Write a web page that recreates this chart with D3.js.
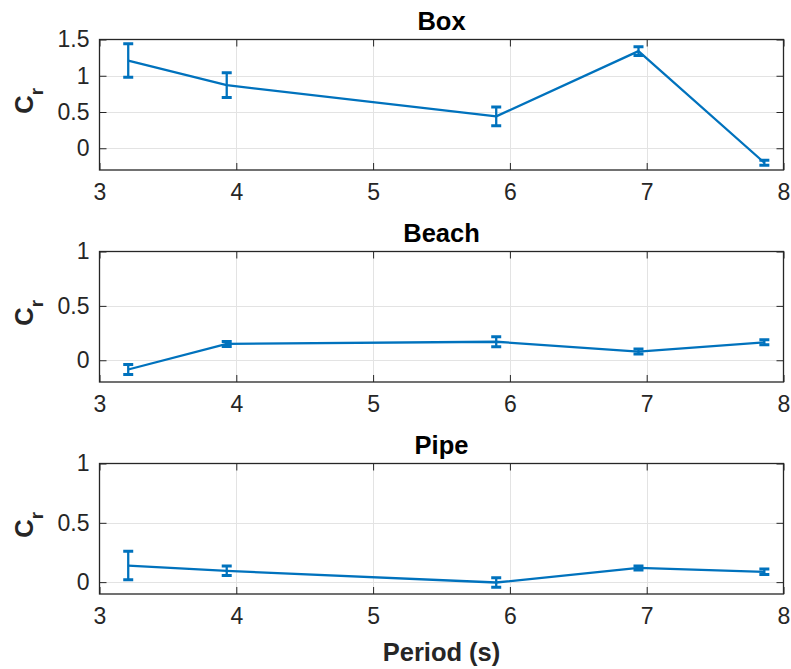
<!DOCTYPE html>
<html>
<head>
<meta charset="utf-8">
<script src="https://cdn.jsdelivr.net/npm/d3@7"></script>
<style>
  body { margin: 0; background: #fff; }
  svg { display: block; font-family: "Liberation Sans", Arial, Helvetica, sans-serif; }
</style>
</head>
<body>
<div id="chart"></div>
<script>
// wave periods (s)
const periods = [3.21, 3.93, 5.9, 6.94, 7.86]

// reflection coefficient means and error half-widths
const boxCr = [1.21, 0.87, 0.44, 1.34, -0.2]
const boxErr = [0.23, 0.17, 0.13, 0.06, 0.035]
const beachCr = [-0.085, 0.15, 0.17, 0.08, 0.165]
const beachErr = [0.045, 0.023, 0.045, 0.023, 0.023]
const pipeCr = [0.14, 0.095, -0.003, 0.12, 0.087]
const pipeErr = [0.12, 0.04, 0.04, 0.017, 0.023]

const xTicks = [3, 4, 5, 6, 7, 8]

const panels = [
  { title: "Box", values: boxCr, err: boxErr, domain: [-0.3, 1.5], ticks: [0, 0.5, 1, 1.5] },
  { title: "Beach", values: beachCr, err: beachErr, domain: [-0.2, 1], ticks: [0, 0.5, 1] },
  { title: "Pipe", values: pipeCr, err: pipeErr, domain: [-0.1, 1], ticks: [0, 0.5, 1] },
]

const width = 791
const height = 669
const left = 99.5
const right = 783.5
const panelTops = [39.5, 251.5, 463.5]
const panelH = 130.5

const lineColor = "#0072BD"
const axisColor = "#262626"
const gridColor = "#e3e3e3"
const tickLen = 7
const capHalf = 5
const tickFont = 23
const labelFont = 25.5

const svg = d3.select("#chart")
  .append("svg")
  .attr("width", width)
  .attr("height", height)

const x = d3.scaleLinear().domain([3, 8]).range([left, right])

panels.forEach((p, k) => {
  const top = panelTops[k]
  const bottom = top + panelH
  const y = d3.scaleLinear().domain(p.domain).range([bottom, top])
  const g = svg.append("g")

  // grid
  g.append("g")
    .attr("stroke", gridColor)
    .attr("stroke-width", 1)
    .selectAll("line.gx")
    .data(xTicks.slice(1, -1))
    .join("line")
    .attr("x1", d => Math.round(x(d)) + 0.5).attr("x2", d => Math.round(x(d)) + 0.5)
    .attr("y1", top).attr("y2", bottom)

  g.append("g")
    .attr("stroke", gridColor)
    .attr("stroke-width", 1)
    .selectAll("line")
    .data(p.ticks.filter(t => y(t) > top + 1))
    .join("line")
    .attr("x1", left).attr("x2", right)
    .attr("y1", d => Math.round(y(d)) + 0.5).attr("y2", d => Math.round(y(d)) + 0.5)

  // bottom / top axis with inward ticks
  const xAxis = d3.axisBottom(x).tickValues(xTicks).tickSize(-tickLen).tickPadding(14).tickFormat(d => d)
  g.append("g")
    .attr("transform", `translate(0,${bottom})`)
    .call(xAxis)
    .call(a => a.select(".domain").remove())
    .call(a => a.selectAll("line").attr("stroke", axisColor))
    .call(a => a.selectAll("text").attr("font-size", tickFont).attr("fill", axisColor).attr("font-family", null))

  g.append("g")
    .attr("transform", `translate(0,${top})`)
    .call(d3.axisTop(x).tickValues(xTicks).tickSize(-tickLen).tickFormat(""))
    .call(a => a.select(".domain").remove())
    .call(a => a.selectAll("line").attr("stroke", axisColor))

  const yAxis = d3.axisLeft(y).tickValues(p.ticks).tickSize(-tickLen).tickPadding(10).tickFormat(d => d)
  g.append("g")
    .attr("transform", `translate(${left},0)`)
    .call(yAxis)
    .call(a => a.select(".domain").remove())
    .call(a => a.selectAll("line").attr("stroke", axisColor))
    .call(a => a.selectAll("text").attr("font-size", tickFont).attr("fill", axisColor).attr("font-family", null))

  g.append("g")
    .attr("transform", `translate(${right},0)`)
    .call(d3.axisRight(y).tickValues(p.ticks).tickSize(-tickLen).tickFormat(""))
    .call(a => a.select(".domain").remove())
    .call(a => a.selectAll("line").attr("stroke", axisColor))

  // box
  g.append("rect")
    .attr("x", left).attr("y", top)
    .attr("width", right - left).attr("height", panelH)
    .attr("fill", "none")
    .attr("stroke", axisColor)
    .attr("stroke-width", 1.3)

  // series line
  const pts = periods.map((t, i) => ({ t, v: p.values[i], e: p.err[i] }))
  g.append("path")
    .datum(pts)
    .attr("fill", "none")
    .attr("stroke", lineColor)
    .attr("stroke-width", 2.3)
    .attr("stroke-linejoin", "round")
    .attr("d", d3.line().x(d => x(d.t)).y(d => y(d.v)))

  // error bars
  g.append("g")
    .attr("stroke", lineColor)
    .attr("stroke-width", 2.3)
    .attr("fill", "none")
    .selectAll("path")
    .data(pts)
    .join("path")
    .attr("d", d => {
      const cx = x(d.t)
      return `M${cx},${y(d.v + d.e)}V${y(d.v - d.e)}`
    })
  g.append("g")
    .attr("stroke", lineColor)
    .attr("stroke-width", 3)
    .selectAll("path")
    .data(pts)
    .join("path")
    .attr("d", d => {
      const cx = x(d.t)
      return `M${cx - capHalf},${y(d.v + d.e)}H${cx + capHalf}M${cx - capHalf},${y(d.v - d.e)}H${cx + capHalf}`
    })

  // title
  g.append("text")
    .attr("x", (left + right) / 2)
    .attr("y", top - 10)
    .attr("text-anchor", "middle")
    .attr("font-size", labelFont)
    .attr("font-weight", "bold")
    .attr("fill", "#000")
    .text(p.title)

  // y label C_r
  const lab = g.append("text")
    .attr("transform", `translate(33,${(top + bottom) / 2 - 4}) rotate(-90)`)
    .attr("text-anchor", "middle")
    .attr("font-size", labelFont)
    .attr("font-weight", "bold")
    .attr("fill", axisColor)
  lab.append("tspan").text("C")
  lab.append("tspan").attr("dy", 10).attr("font-size", 19).text("r")
})

svg.append("text")
  .attr("x", (left + right) / 2)
  .attr("y", 661)
  .attr("text-anchor", "middle")
  .attr("font-size", labelFont)
  .attr("font-weight", "bold")
  .attr("fill", axisColor)
  .text("Period (s)")
</script>
</body>
</html>
